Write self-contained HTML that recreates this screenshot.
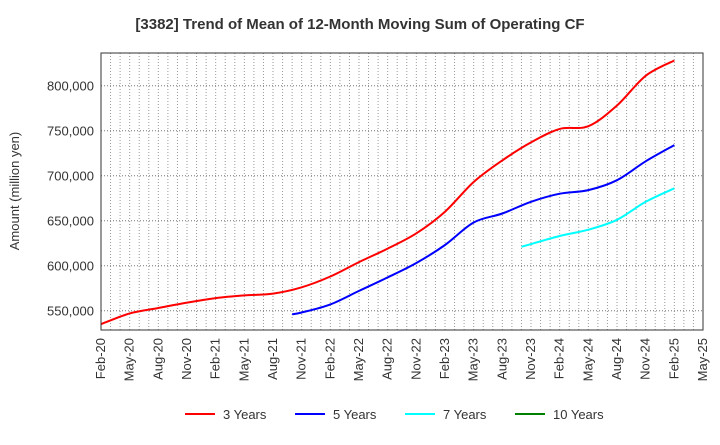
<!DOCTYPE html>
<html><head><meta charset="utf-8"><style>
body{margin:0;background:#fff;font-family:"Liberation Sans",sans-serif;}
svg text{font-family:"Liberation Sans",sans-serif;}
</style></head><body>
<svg width="720" height="440" id="chart">
<text x="360" y="29" text-anchor="middle" font-size="15" font-weight="bold" fill="#333">[3382]  Trend of Mean of 12-Month Moving Sum of Operating CF</text>
<text transform="translate(19,191) rotate(-90)" text-anchor="middle" font-size="13" fill="#333">Amount (million yen)</text>
<g id="grid"></g><g id="series"></g><g id="axes"></g><g id="legend"></g>
</svg>
<script>
const xLabels=["Feb-20","May-20","Aug-20","Nov-20","Feb-21","May-21","Aug-21","Nov-21","Feb-22","May-22","Aug-22","Nov-22","Feb-23","May-23","Aug-23","Nov-23","Feb-24","May-24","Aug-24","Nov-24","Feb-25","May-25"];
const yTicks=[550000,600000,650000,700000,750000,800000];
const seriesNames=["3 Years","5 Years","7 Years","10 Years"];
const seriesColors=["#ff0000","#0000ff","#00ffff","#008000"];
// month index from Feb-20
const months3=[0,3,6,9,12,15,18,21,24,27,30,33,36,39,42,45,48,51,54,57,60];
const values3=[535000,547000,553000,559000,564000,567000,569000,576000,588000,604000,619000,636000,660000,693000,717000,737000,752000,755000,778000,811000,828000];
const months5=[20,21,24,27,30,33,36,39,42,45,48,51,54,57,60];
const values5=[546000,548000,557000,572000,587000,603000,623000,648000,658000,671000,680000,684000,695000,716000,734000];
const months7=[44,45,48,51,54,57,60];
const values7=[621000,624000,633000,640000,651000,671000,686000];
const months10=[];
const values10=[];

const L=101,R=703,T=53,B=330,NM=63;
const xS=m=>L+(R-L)*m/NM;
const yS=v=>310.7-(v-550000)*45/50000;
const ns="http://www.w3.org/2000/svg";
function mk(t,a,p){const e=document.createElementNS(ns,t);for(const k in a)e.setAttribute(k,a[k]);p.appendChild(e);return e;}
const grid=document.getElementById('grid'),axes=document.getElementById('axes'),ser=document.getElementById('series'),leg=document.getElementById('legend');
for(let m=1;m<NM;m++){const l=mk('line',{x1:xS(m),x2:xS(m),y1:T,y2:B,stroke:'#999','stroke-dasharray':'1,2','stroke-width':1},grid);

}
yTicks.forEach(v=>{const l=mk('line',{x1:L,x2:R,y1:yS(v),y2:yS(v),stroke:'#777','stroke-dasharray':'1,2','stroke-width':1},grid);


const t=mk('text',{x:L-7,y:yS(v)+5,'text-anchor':'end','font-size':13,fill:'#333'},axes);t.textContent=v.toLocaleString('en-US');

});
xLabels.forEach((s,i)=>{const x=xS(i*3);const t=mk('text',{transform:`translate(${x+4},338) rotate(-90)`,'text-anchor':'end','font-size':13,fill:'#333'},axes);t.textContent=s;

});
const fr=mk('rect',{x:L,y:T,width:R-L,height:B-T,fill:'none',stroke:'#333','stroke-width':1},axes);


function path(ms,vs){const p=ms.map((m,i)=>[xS(m),yS(vs[i])]);if(p.length<2)return'';let d=`M${p[0][0]},${p[0][1]}`;
for(let i=0;i<p.length-1;i++){const p0=p[Math.max(0,i-1)],p1=p[i],p2=p[i+1],p3=p[Math.min(p.length-1,i+2)];
d+=`C${p1[0]+(p2[0]-p0[0])/6},${p1[1]+(p2[1]-p0[1])/6} ${p2[0]-(p3[0]-p1[0])/6},${p2[1]-(p3[1]-p1[1])/6} ${p2[0]},${p2[1]}`;}return d;}
[[months3,values3],[months5,values5],[months7,values7],[months10,values10]].forEach((s,i)=>{if(!s[0].length)return;
const e=mk('path',{d:path(s[0],s[1]),fill:'none',stroke:seriesColors[i],'stroke-width':2},ser);

});
const lx=[185,295,405,515];
seriesNames.forEach((n,i)=>{const g=mk('g',{},leg);


mk('line',{x1:lx[i],x2:lx[i]+30,y1:414,y2:414,stroke:seriesColors[i],'stroke-width':2},g);
const t=mk('text',{x:lx[i]+38,y:419,'font-size':13,fill:'#333'},g);t.textContent=n;});
</script>
</body></html>
